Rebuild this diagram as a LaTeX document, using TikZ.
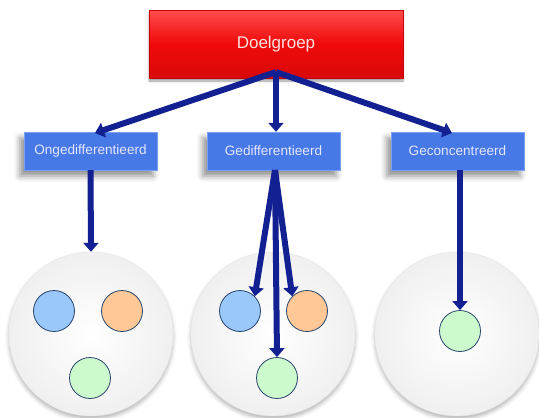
\documentclass[tikz,border=0pt]{standalone}
\usepackage{fontspec}
\setmainfont{Liberation Sans}
\usetikzlibrary{arrows.meta,shadows.blur}
\definecolor{topred}{RGB}{240,10,10}
\definecolor{boxblue}{RGB}{70,120,230}
\definecolor{boxedge}{RGB}{120,160,245}
\definecolor{arrowblue}{RGB}{18,32,145}
\definecolor{dotblue}{RGB}{155,200,250}
\definecolor{dotorange}{RGB}{255,200,150}
\definecolor{dotgreen}{RGB}{205,250,205}
\definecolor{dotedge}{RGB}{40,70,110}
\tikzset{
  headbox/.style={draw=red!80!black, top color=red!70!white, bottom color=topred!90!black, middle color=topred,
    minimum width=254pt, minimum height=68pt, text=white!88!red, font=\fontsize{17}{20}\selectfont,
    blur shadow={shadow xshift=0pt, shadow yshift=-3pt, shadow blur steps=6}},
  groupbox/.style={draw=boxedge, fill=boxblue, minimum width=133pt, minimum height=38pt,
    text=white!90!blue, font=\fontsize{13.6}{16}\selectfont,
    blur shadow={shadow xshift=-4pt, shadow yshift=-6pt, shadow blur radius=6pt, shadow opacity=45}},
  market/.style={circle, minimum size=164pt, draw=gray!20, inner color=white, outer color=gray!12,
    blur shadow={shadow xshift=0pt, shadow yshift=-3pt, shadow blur radius=4pt, shadow opacity=30}},
  segment/.style={circle, minimum size=41pt, draw=dotedge, line width=0.8pt},
  flow/.style={draw=arrowblue, line width=6pt, -{Triangle[length=9pt,width=15pt]}},
}
\begin{document}
\begin{tikzpicture}[x=1pt,y=-1pt]
\useasboundingbox (0,0) rectangle (539,418);

% market circles
\node[market] (m1) at (91,334) {};
\node[market] (m2) at (273,334) {};
\node[market] (m3) at (457,334) {};

% segments
\node[segment, fill=dotblue]   (b1) at (54,311) {};
\node[segment, fill=dotorange] (o1) at (122,311) {};
\node[segment, fill=dotgreen]  (g1) at (90,378) {};
\node[segment, fill=dotblue]   (b2) at (240,311) {};
\node[segment, fill=dotorange] (o2) at (307,311) {};
\node[segment, fill=dotgreen]  (g2) at (277,378) {};
\node[segment, fill=dotgreen]  (g3) at (460,331) {};

% boxes
\node[headbox] (top) at (276,44) {Doelgroep};
\node[groupbox] (ong) at (90.5,151) {Ongedifferentieerd};
\node[groupbox] (ged) at (273.5,151) {Gedifferentieerd};
\node[groupbox] (gec) at (457.5,151) {Geconcentreerd};

% connectors
\coordinate (src) at (276,72);
\draw[flow] (src) -- (95,133);
\draw[flow] (src) -- (ged.north -| src);
\draw[flow] (src) -- (452,133);
\draw[flow] (ong.south) -- (m1.north);
\coordinate (gsrc) at (275,170);
\draw[flow] (gsrc) -- (b2.north east);
\draw[flow] (gsrc) -- (o2.north west);
\draw[flow] (gsrc) -- (g2.north);
\draw[flow] (gec.south -| g3) -- (g3.north);
\end{tikzpicture}
\end{document}
